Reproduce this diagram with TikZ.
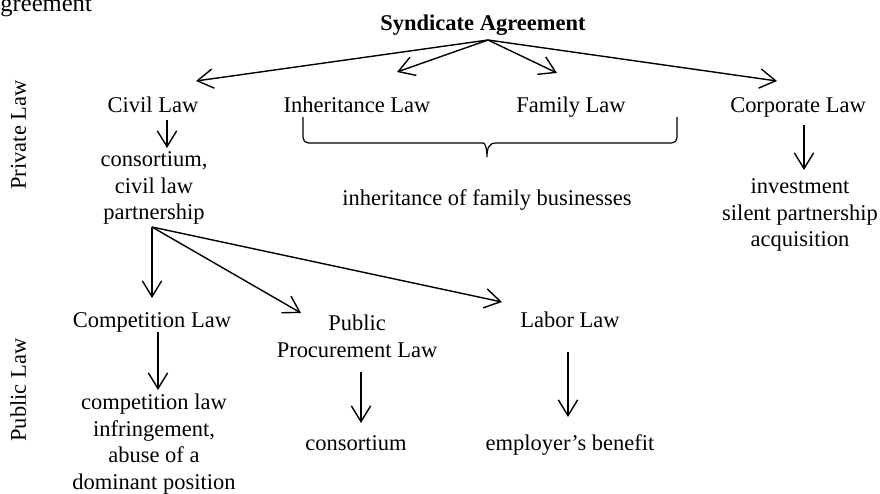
\documentclass[tikz,border=0pt]{standalone}
\usepackage{fontspec}
\setmainfont{Liberation Serif}
\usetikzlibrary{arrows.meta, calc}

\begin{document}
\begin{tikzpicture}[
    x=0.02cm, y=0.02cm,
    texto/.style={
        inner sep=0pt,
        align=center,
        font=\fontsize{12.8}{15.2}\selectfont
    },
    linha/.style={
        texto,
        text height=0.66em,
        text depth=0pt
    },
    lateral/.style={
        linha,
        rotate=90
    },
    seta/.style={
        -{Straight Barb[length=9pt,width=11pt]},
        line width=0.8pt
    }
]
\useasboundingbox (0,0) rectangle (880,-494);

\node[texto, anchor=base west, font=\fontsize{14}{16}\selectfont] (corte) at (0,-11) {greement};

\node[linha, font=\fontsize{12.8}{15.2}\selectfont\bfseries] (syn) at (483,-25) {Syndicate Agreement};

\node[lateral] (privado) at (20,-135) {Private Law};
\node[lateral] (publico) at (20,-390) {Public Law};

% private law
\node[linha] (civil) at (153,-107) {Civil Law};
\node[linha] (inher) at (357,-107) {Inheritance Law};
\node[linha] (family) at (571,-107) {Family Law};
\node[linha] (corp) at (798,-107) {Corporate Law};

\node[texto] (cons) at (154,-188) {consortium,\\civil law\\partnership};
\node[linha] (inherfam) at (487,-200) {inheritance of family businesses};
\node[texto] (invest) at (800,-215) {investment\\silent partnership\\acquisition};

% public law
\node[linha] (comp) at (152,-322) {Competition Law};
\node[texto] (procure) at (357,-336) {Public\\Procurement Law};
\node[linha] (labor) at (570,-322) {Labor Law};

\node[texto] (infr) at (154,-444) {competition law\\infringement,\\abuse of a\\dominant position};
\node[linha] (consort) at (356,-445) {consortium};
\node[linha] (employ) at (570,-445) {employer’s benefit};

\draw[seta] ($(syn)+(5,-15)$) -- ($(civil)+(43,26)$);
\draw[seta] ($(syn)+(5,-15)$) -- ($(inher)+(40,35)$);
\draw[seta] ($(syn)+(5,-15)$) -- ($(family)+(-14,34)$);
\draw[seta] ($(syn)+(5,-15)$) -- ($(corp)+(-21,26)$);

\draw[seta] ($(civil)+(14,-13)$) -- ($(cons)+(13,40)$);
\draw[seta] ($(corp)+(6,-18)$) -- ($(invest)+(4,45)$);

\draw[line width=0.7pt]
    ($(inher)+(-54,-10)$) [rounded corners=3] -- ($(inher)+(-54,-36)$) -- ($(inherfam)+(-9,57)$)
    [sharp corners] .. controls ($(inherfam)+(-2,57)$) and ($(inherfam)+(0,52)$) .. ($(inherfam)+(0,43)$)
    .. controls ($(inherfam)+(0,52)$) and ($(inherfam)+(2,57)$) .. ($(inherfam)+(9,57)$)
    [rounded corners=3] -- ($(family)+(106,-36)$) -- ($(family)+(106,-10)$);

\draw[seta] ($(cons)+(-2,-39)$) -- ($(comp)+(0,24)$);
\draw[seta] ($(cons)+(-2,-39)$) -- ($(procure)+(-56,23)$);
\draw[seta] ($(cons)+(-2,-39)$) -- ($(labor)+(-68,20)$);

\draw[seta] ($(comp)+(6,-10)$) -- ($(infr)+(4,54)$);
\draw[seta] ($(procure)+(4,-36)$) -- ($(consort)+(5,22)$);
\draw[seta] ($(labor)+(-2,-30)$) -- ($(employ)+(-2,28)$);

\end{tikzpicture}
\end{document}
